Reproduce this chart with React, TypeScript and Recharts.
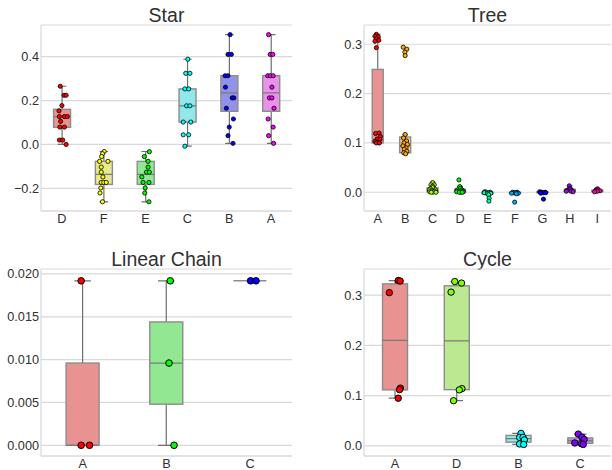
import React from 'react';
import { ComposedChart, Bar, Scatter, XAxis, YAxis, CartesianGrid } from 'recharts';

// ---- Star ----
const starCats = ['D', 'F', 'E', 'C', 'B', 'A'];
const starColors = ['#ff0000', '#ffff00', '#00ff00', '#00ffff', '#0000ff', '#ff00ff'];
const starPoints = [
  [0.265, 0.224, 0.224, 0.177, 0.153, 0.127, 0.127, 0.127, 0.105, 0.079, 0.079, 0.02, 0.02, 0.0],
  [-0.032, -0.042, -0.055, -0.077, -0.077, -0.103, -0.126, -0.148, -0.173, -0.173, -0.173, -0.198, -0.221, -0.261],
  [-0.033, -0.055, -0.077, -0.103, -0.126, -0.126, -0.148, -0.173, -0.173, -0.198, -0.221, -0.261],
  [0.388, 0.324, 0.324, 0.253, 0.253, 0.176, 0.176, 0.102, 0.102, 0.044, 0.044, -0.008],
  [0.5, 0.41, 0.41, 0.313, 0.313, 0.261, 0.212, 0.212, 0.165, 0.116, 0.079, 0.04, 0.005],
  [0.5, 0.41, 0.41, 0.313, 0.313, 0.313, 0.261, 0.212, 0.212, 0.165, 0.116, 0.079, 0.04, 0.005],
];
const starJitter = [
  [-0.04, 0.05, 0.1, 0.0, -0.07, -0.06, 0.06, 0.13, -0.03, -0.05, 0.06, -0.06, 0.02, 0.1],
  [0.01, -0.03, -0.05, -0.1, 0.1, -0.06, -0.06, -0.02, -0.06, 0.0, 0.06, -0.07, -0.09, -0.03],
  [0.09, -0.03, 0.06, 0.06, 0.02, 0.09, -0.09, -0.06, 0.08, -0.01, -0.02, 0.08],
  [0.01, -0.04, 0.06, -0.06, 0.03, -0.02, 0.06, -0.1, 0.08, -0.1, 0.03, -0.06],
  [0.02, -0.03, 0.05, -0.1, -0.03, -0.09, 0.07, 0.11, -0.07, 0.1, 0.0, -0.03, 0.09],
  [-0.06, -0.02, 0.04, -0.08, -0.02, 0.05, 0.02, -0.04, 0.02, 0.07, -0.07, 0.05, -0.06, 0.06],
];
const starQ1 = [0.078, -0.182, -0.182, 0.102, 0.151, 0.151];
const starMed = [0.127, -0.136, -0.136, 0.176, 0.235, 0.235];
const starQ3 = [0.16, -0.077, -0.077, 0.253, 0.313, 0.313];
const starLo = [0.0, -0.261, -0.261, -0.008, 0.005, 0.005];
const starHi = [0.265, -0.032, -0.032, 0.388, 0.5, 0.5];
const starTicks = [-0.2, 0, 0.2, 0.4];

// ---- Tree ----
const treeCats = ['A', 'B', 'C', 'D', 'E', 'F', 'G', 'H', 'I'];
const treeColors = ['#ff0000', '#ffaa00', '#aaff00', '#00ff00', '#00ffaa', '#00aaff', '#0000ff', '#aa00ff', '#ff00aa'];
const treePoints = [
  [0.32, 0.316, 0.315, 0.311, 0.308, 0.306, 0.293, 0.12, 0.119, 0.113, 0.108, 0.107, 0.103, 0.101, 0.1, 0.1],
  [0.294, 0.29, 0.284, 0.277, 0.117, 0.11, 0.104, 0.1, 0.097, 0.094, 0.09, 0.087, 0.083, 0.08, 0.078],
  [0.0196, 0.015, 0.015, 0.012, 0.0095, 0.007, 0.0047, 0.0047, 0.003, 0.002, 0.001, 0.0005, 0.0, 0.0],
  [0.025, 0.0115, 0.008, 0.0047, 0.0047, 0.003, 0.002, 0.001, 0.001, 0.0, 0.0, 0.0],
  [0.001, 0.0, 0.0, -0.001, -0.001, -0.002, -0.003, -0.005, -0.012, -0.018],
  [0.0, 0.0, -0.001, -0.001, -0.002, -0.002, -0.003, -0.02],
  [0.001, 0.0, 0.0, -0.001, -0.001, -0.002, -0.014],
  [0.013, 0.008, 0.006, 0.004, 0.003, 0.002, 0.002, 0.001],
  [0.007, 0.005, 0.003, 0.003, 0.002, 0.001],
];
const treeJitter = [
  [-0.05, -0.1, 0.02, -0.05, 0.04, -0.1, -0.05, 0.05, -0.08, 0.1, -0.02, 0.08, -0.1, 0.03, -0.05, 0.06],
  [-0.07, 0.06, -0.01, 0.0, 0.0, -0.06, 0.05, -0.04, 0.08, -0.08, 0.03, -0.03, 0.06, -0.05, 0.02],
  [0.0, -0.06, 0.06, 0.0, 0.0, -0.08, -0.12, 0.1, -0.02, 0.06, -0.1, 0.02, -0.05, 0.12],
  [-0.04, -0.01, 0.02, -0.1, 0.06, 0.1, -0.06, 0.12, -0.12, 0.03, -0.03, 0.08],
  [-0.1, 0.1, -0.05, 0.05, -0.12, 0.12, 0.0, 0.04, 0.06, 0.05],
  [-0.08, 0.08, -0.03, 0.03, 0.12, -0.12, 0.05, -0.01],
  [-0.1, 0.1, -0.03, 0.04, 0.12, -0.06, 0.04],
  [-0.02, 0.0, 0.03, -0.1, 0.09, -0.13, 0.05, 0.12],
  [0.01, -0.04, -0.06, 0.1, 0.0, -0.1],
];
const treeQ1 = [0.1, 0.08, 0.001, 0.001, -0.003, -0.002, -0.001, 0.002, 0.001];
const treeMed = [0.106, 0.094, 0.004, 0.003, -0.001, -0.001, 0.0, 0.003, 0.003];
const treeQ3 = [0.249, 0.112, 0.009, 0.006, 0.0, 0.0, 0.001, 0.006, 0.004];
const treeLo = [0.1, 0.077, 0.0, 0.0, -0.005, -0.003, -0.002, 0.001, 0.0];
const treeHi = [0.32, 0.117, 0.02, 0.012, 0.001, 0.001, 0.001, 0.013, 0.007];
const treeTicks = [0, 0.1, 0.2, 0.3];

// ---- Linear Chain ----
const chainCats = ['A', 'B', 'C'];
const chainColors = ['#ff0000', '#00ff00', '#0000ff'];
const chainPoints = [
  [0.0192, 0.0, 0.0],
  [0.0192, 0.0096, 0.0],
  [0.0192, 0.0192],
];
const chainJitter = [
  [-0.02, -0.02, 0.08],
  [0.045, 0.03, 0.09],
  [0.005, 0.07],
];
const chainQ1 = [0.0, 0.0048, 0.0192];
const chainMed = [0.0, 0.0096, 0.0192];
const chainQ3 = [0.0096, 0.0144, 0.0192];
const chainLo = [0.0, 0.0, 0.0192];
const chainHi = [0.0192, 0.0192, 0.0192];
const chainTicks = [0, 0.005, 0.01, 0.015, 0.02];

// ---- Cycle ----
const cycleCats = ['A', 'D', 'B', 'C'];
const cycleColors = ['#ff0000', '#80ff00', '#00ffff', '#8000ff'];
const cyclePoints = [
  [0.329, 0.328, 0.305, 0.115, 0.112, 0.095],
  [0.327, 0.324, 0.306, 0.114, 0.1115, 0.09],
  [0.025, 0.017, 0.017, 0.012, 0.004, 0.003],
  [0.0236, 0.0175, 0.013, 0.006, 0.0045, 0.003],
];
const cycleJitter = [
  [0.054, 0.086, -0.09, 0.09, 0.075, 0.054],
  [-0.03, 0.08, -0.09, 0.086, 0.043, -0.05],
  [0.043, 0.02, 0.075, 0.097, 0.02, 0.086],
  [-0.03, 0.03, 0.065, -0.086, 0.02, 0.05],
];
const cycleQ1 = [0.1115, 0.112, 0.0075, 0.0053];
const cycleMed = [0.21, 0.209, 0.0145, 0.0106];
const cycleQ3 = [0.3225, 0.3185, 0.021, 0.016];
const cycleLo = [0.095, 0.09, 0.003, 0.003];
const cycleHi = [0.329, 0.327, 0.025, 0.0236];
const cycleTicks = [0, 0.1, 0.2, 0.3];

const GRID = '#d9d9d9';
const TEXT = '#303030';

// desaturate the hue a bit and wash it with white, like the seaborn boxes
function boxFill(hex: string, f = 0.65, a = 0.52) {
  const rgb = [1, 3, 5].map((i) => parseInt(hex.slice(i, i + 2), 16) / 255);
  const mx = Math.max(...rgb), mn = Math.min(...rgb);
  const l = (mx + mn) / 2;
  const out = rgb.map((c) => (l + (c - l) * f) * a + (1 - a));
  return `rgb(${out.map((c) => Math.round(c * 255)).join(',')})`;
}

const BoxShape = (props: any) => {
  const { x, y, width, height, payload } = props;
  const d = payload;
  const top = Math.min(y, y + height);
  const h = Math.abs(height);
  const cx = x + width / 2;
  const cap = width / 4;
  const span = d.q3 - d.q1;
  if (!(span > 0) || h === 0) {
    return (
      <g>
        <line x1={x} x2={x + width} y1={top} y2={top} stroke="#8c8c8c" strokeWidth={1.4} />
      </g>
    );
  }
  const k = h / span;
  const py = (v: number) => top + (d.q3 - v) * k;
  return (
    <g>
      <line x1={cx} x2={cx} y1={py(d.hi)} y2={top} stroke="#6e6e6e" strokeWidth={1.2} />
      <line x1={cx} x2={cx} y1={top + h} y2={py(d.lo)} stroke="#6e6e6e" strokeWidth={1.2} />
      <line x1={cx - cap} x2={cx + cap} y1={py(d.hi)} y2={py(d.hi)} stroke="#6e6e6e" strokeWidth={1.2} />
      <line x1={cx - cap} x2={cx + cap} y1={py(d.lo)} y2={py(d.lo)} stroke="#6e6e6e" strokeWidth={1.2} />
      <rect x={x} y={top} width={width} height={h} fill={d.fill} stroke="#8c8c8c" strokeWidth={1.4} />
      <line x1={x} x2={x + width} y1={py(d.med)} y2={py(d.med)} stroke="#7a7a7a" strokeWidth={1.2} />
    </g>
  );
};

interface PanelProps {
  title: string;
  cats: string[];
  colors: string[];
  points: number[][];
  jitter: number[][];
  q1: number[];
  med: number[];
  q3: number[];
  lo: number[];
  hi: number[];
  domain: [number, number];
  ticks: number[];
  digits: number;
  r: number;
  rect: { left: number; top: number; right: number; bottom: number };
}

const Panel = (p: PanelProps) => {
  const n = p.cats.length;
  const boxData = p.cats.map((c, i) => ({
    name: c,
    box: [p.q1[i], p.q3[i]],
    q1: p.q1[i],
    med: p.med[i],
    q3: p.q3[i],
    lo: p.lo[i],
    hi: p.hi[i],
    fill: boxFill(p.colors[i]),
  }));
  const chartLeft = p.rect.left - 41;
  const chartTop = p.rect.top - 25;
  const width = p.rect.right - chartLeft + 1;
  const height = p.rect.bottom - chartTop + 14;
  const fmt = (v: number) => v.toFixed(p.digits).replace('-', '\u2212');

  return (
    <div style={{ position: 'absolute', left: chartLeft, top: chartTop, width, height }}>
      <div
        style={{
          position: 'absolute',
          left: 41,
          top: 5,
          width: p.rect.right - p.rect.left,
          textAlign: 'center',
          fontSize: 19.5,
          lineHeight: '20px',
          color: TEXT,
        }}
      >
        {p.title}
      </div>
      <ComposedChart
        width={width}
        height={height}
        data={boxData}
        margin={{ top: 25, right: 1, bottom: 0, left: 1 }}
        barCategoryGap="30%"
      >
        <CartesianGrid vertical={false} stroke={GRID} strokeWidth={1.2} />
        <XAxis
          dataKey="name"
          height={14}
          tickSize={0}
          tickMargin={2.5}
          tickLine={false}
          axisLine={{ stroke: GRID, strokeWidth: 1.2 }}
          tick={{ fontSize: 12.7, fill: TEXT }}
          interval={0}
        />
        <XAxis xAxisId="num" type="number" dataKey="x" domain={[-0.5, n - 0.5]} allowDataOverflow hide />
        <XAxis
          xAxisId="frameTop"
          orientation="top"
          type="number"
          domain={[0, 1]}
          height={0}
          tick={false}
          tickLine={false}
          axisLine={{ stroke: GRID, strokeWidth: 1.2 }}
        />
        <YAxis
          type="number"
          width={40}
          domain={p.domain}
          ticks={p.ticks}
          allowDataOverflow
          tickSize={0}
          tickMargin={2}
          tickLine={false}
          axisLine={{ stroke: GRID, strokeWidth: 1.2 }}
          tick={{ fontSize: 12.7, fill: TEXT }}
          tickFormatter={fmt}
        />
        <YAxis
          yAxisId="frameRight"
          orientation="right"
          type="number"
          domain={[0, 1]}
          width={0}
          tick={false}
          tickLine={false}
          axisLine={{ stroke: GRID, strokeWidth: 1.2 }}
        />
        <Bar dataKey="box" shape={BoxShape} isAnimationActive={false} />
        {p.cats.map((c, i) => (
          <Scatter
            key={c}
            xAxisId="num"
            dataKey="y"
            data={p.points[i].map((v, k) => ({ x: i + p.jitter[i][k], y: v }))}
            isAnimationActive={false}
            shape={(s: any) => (
              <circle cx={s.cx} cy={s.cy} r={p.r} fill={p.colors[i]} stroke="#000" strokeWidth={p.r > 2.5 ? 1 : 0.8} />
            )}
          />
        ))}
      </ComposedChart>
    </div>
  );
};

export default function App() {
  return (
    <div
      style={{
        position: 'absolute',
        left: 0,
        top: 0,
        width: 612,
        height: 470,
        background: '#fff',
        fontFamily: '"Liberation Sans", Arial, sans-serif',
      }}
    >
      <Panel
        title="Star"
        cats={starCats}
        colors={starColors}
        points={starPoints}
        jitter={starJitter}
        q1={starQ1}
        med={starMed}
        q3={starQ3}
        lo={starLo}
        hi={starHi}
        domain={[-0.303, 0.544]}
        ticks={starTicks}
        digits={1}
        r={2.1}
        rect={{ left: 41, top: 25, right: 292, bottom: 211 }}
      />
      <Panel
        title="Tree"
        cats={treeCats}
        colors={treeColors}
        points={treePoints}
        jitter={treeJitter}
        q1={treeQ1}
        med={treeMed}
        q3={treeQ3}
        lo={treeLo}
        hi={treeHi}
        domain={[-0.038, 0.339]}
        ticks={treeTicks}
        digits={1}
        r={2.1}
        rect={{ left: 364, top: 25, right: 611, bottom: 211 }}
      />
      <Panel
        title="Linear Chain"
        cats={chainCats}
        colors={chainColors}
        points={chainPoints}
        jitter={chainJitter}
        q1={chainQ1}
        med={chainMed}
        q3={chainQ3}
        lo={chainLo}
        hi={chainHi}
        domain={[-0.00125, 0.02058]}
        ticks={chainTicks}
        digits={3}
        r={3.3}
        rect={{ left: 41, top: 269, right: 292, bottom: 456 }}
      />
      <Panel
        title="Cycle"
        cats={cycleCats}
        colors={cycleColors}
        points={cyclePoints}
        jitter={cycleJitter}
        q1={cycleQ1}
        med={cycleMed}
        q3={cycleQ3}
        lo={cycleLo}
        hi={cycleHi}
        domain={[-0.02, 0.352]}
        ticks={cycleTicks}
        digits={1}
        r={3.2}
        rect={{ left: 364, top: 269, right: 611, bottom: 456 }}
      />
    </div>
  );
}
